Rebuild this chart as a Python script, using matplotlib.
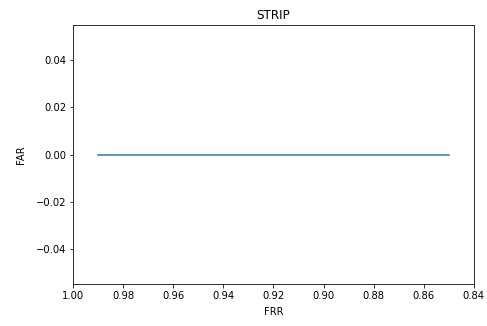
import matplotlib
matplotlib.use("Agg")
import matplotlib.pyplot as plt

frr = [0.99, 0.98, 0.97, 0.96, 0.95, 0.94, 0.93, 0.92, 0.91, 0.90, 0.89, 0.88, 0.87, 0.86, 0.85]
far = [0.0] * len(frr)

fig = plt.figure(figsize=(487 / 72, 326 / 72), dpi=72)
plt.subplots_adjust(left=0.150, right=0.973, top=0.923, bottom=0.129)

plt.plot(frr, far)
plt.xlim(1.0, 0.84)
plt.title("STRIP")
plt.xlabel("FRR", labelpad=6)
plt.ylabel("FAR", labelpad=10)

plt.savefig("out.png", dpi=72)
